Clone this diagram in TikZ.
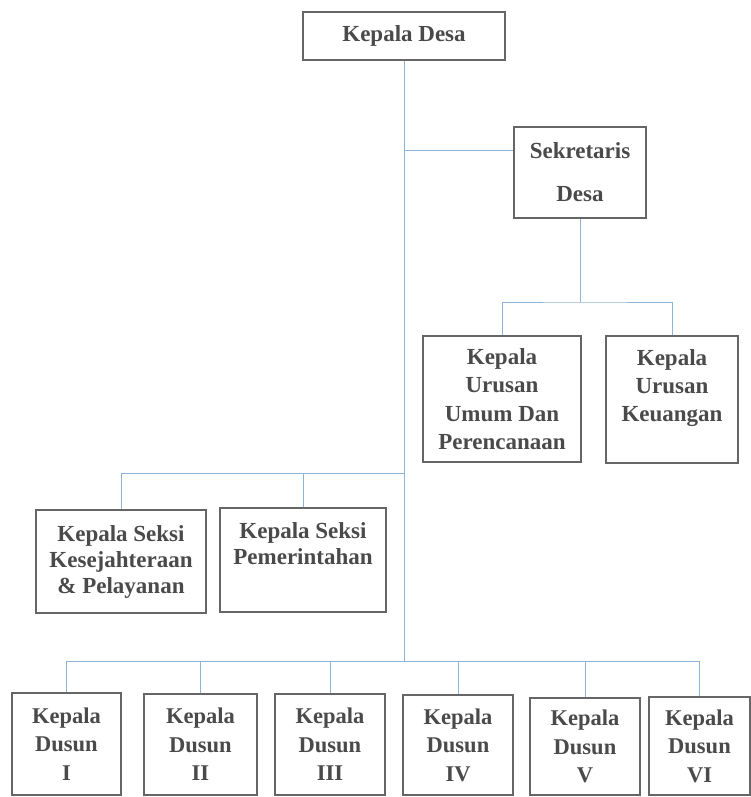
\documentclass[tikz,border=0pt]{standalone}
\usepackage{fontspec}
\setmainfont{Liberation Serif}
\usepackage{xcolor}
\definecolor{garisbiru}{HTML}{8DB3D6}
\definecolor{teksabu}{HTML}{4A4A4A}
\begin{document}
\begin{tikzpicture}[
                x=1pt, y=-1pt, % 以像素为单位
                kotak/.style={draw=black!60, line width=1.1pt, text=teksabu,
                    align=center, inner sep=2pt,
                    font=\fontsize{23}{23}\selectfont\bfseries},
                urusan/.style={font=\fontsize{23}{28.3}\selectfont\bfseries},
                seksi/.style={font=\fontsize{23}{26}\selectfont\bfseries},
                dusun/.style={font=\fontsize{22.5}{28.5}\selectfont\bfseries},
                garis/.style={draw=garisbiru, line width=0.9pt},
            ]
            \useasboundingbox (0,0) rectangle (751,797);
            % 定义框
            \node[kotak, minimum width=202, minimum height=48] (kades) at (404,36) {Kepala Desa};
            \node[kotak, minimum width=132, minimum height=91] (sekdes) at (580,172.5) {Sekretaris\\[20pt]Desa};
            \node[kotak, urusan, minimum width=158, minimum height=126] (kaurum) at (502,399) {Kepala\\Urusan\\Umum Dan\\Perencanaan};
            \node[kotak, urusan, minimum width=132, minimum height=127] (kaurkeu) at (672,399.5) {Kepala\\Urusan\\Keuangan\\\mbox{}};
            \node[kotak, seksi, minimum width=170, minimum height=103] (kasikesra) at (121,561.5) {Kepala Seksi\\Kesejahteraan\\\& Pelayanan};
            \node[kotak, seksi, minimum width=166, minimum height=104] (kasipem) at (303,560) {Kepala Seksi\\Pemerintahan\\[7pt]\mbox{}};
            \foreach \nama/\xa/\xb/\ya in {I/12/121/693, II/144/257/694, III/275/385/694,
                IV/403/513/695, V/530/640/698, VI/649/750/697} {
                \node[kotak, dusun, minimum width={\xb-\xa}, minimum height={795-\ya}]
                    (kd\nama) at ({(\xa+\xb)/2},{(\ya+795)/2}) {Kepala\\Dusun\\\nama};
            }
            % 定义分支点
            \coordinate (cabsek) at (404,150);
            \coordinate (busK) at (583,302);
            \coordinate (busS) at (404,473);
            \coordinate (busD) at (404,661);
            % 画连线
            \draw[garis] (kades.south) -- (busD);
            \draw[garis] (cabsek) -- (cabsek -| sekdes.west);
            \draw[garis] (sekdes.south) -- (sekdes.south |- busK);
            \draw[garis] (kaurum.north) |- (busK) -| (kaurkeu.north);
            \draw[garis] (kasikesra.north) |- (busS);
            \draw[garis] (kasipem.north) -- (kasipem.north |- busS);
            \draw[garis] (kdI.north |- busD) -- (kdVI.north |- busD);
            \foreach \nama in {I,II,III,IV,V,VI}
                \draw[garis] (kd\nama.north) -- (kd\nama.north |- busD);
            \end{tikzpicture}
\end{document}
